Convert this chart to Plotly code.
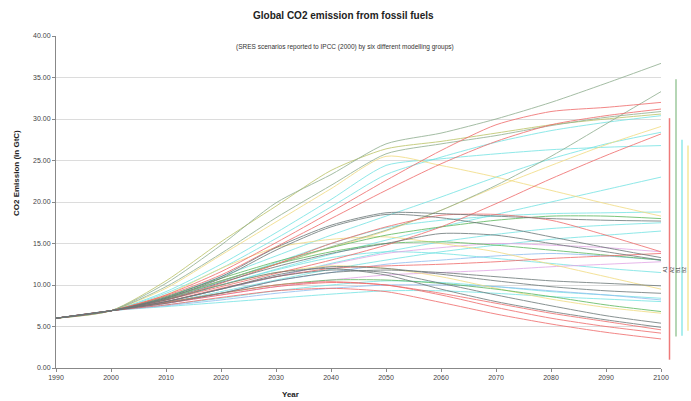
import plotly.graph_objects as go

years = [1990, 2000, 2010, 2020, 2030, 2040, 2050, 2060, 2070, 2080, 2090, 2100]

red_runs = [
    [6.0, 6.9, 8.8, 11.6, 15.1, 18.8, 22.6, 26.2, 29.3, 30.9, 31.4, 32.0],
    [6.0, 6.9, 8.7, 11.2, 14.6, 18.0, 21.4, 24.6, 27.3, 29.3, 30.4, 31.2],
    [6.0, 6.9, 8.2, 9.8, 11.4, 13.0, 14.8, 17.0, 19.8, 22.8, 25.6, 28.2],
    [6.0, 6.9, 8.2, 10.2, 12.5, 15.0, 17.0, 18.4, 18.5, 17.8, 16.0, 14.0],
    [6.0, 6.9, 7.9, 9.0, 10.0, 10.4, 10.0, 9.0, 7.8, 6.6, 5.6, 4.6],
    [6.0, 6.9, 7.6, 8.5, 9.3, 9.6, 9.2, 7.9, 6.5, 5.3, 4.3, 3.5],
    [6.0, 6.9, 7.8, 8.8, 9.8, 10.3, 10.0, 8.8, 7.3, 6.0, 5.0, 4.2],
    [6.0, 6.9, 8.0, 9.6, 11.0, 12.0, 12.3, 12.5, 12.8, 13.2, 13.5, 13.8],
]
graygreen_runs = [
    [6.0, 6.9, 10.2, 14.8, 19.9, 23.3, 27.0, 28.3, 30.0, 32.0, 34.3, 36.7],
    [6.0, 6.9, 8.5, 10.5, 12.5, 14.6, 16.6, 19.0, 22.0, 25.5, 29.4, 33.3],
    [6.0, 6.9, 9.8, 13.8, 18.1, 22.0, 25.8, 27.0, 28.0, 29.2, 30.2, 30.9],
]
olive_runs = [
    [6.0, 6.9, 10.5, 15.2, 19.5, 23.8, 26.4, 27.3, 28.3, 29.3, 30.0, 30.6],
]
cyan_runs = [
    [6.0, 6.9, 9.2, 12.5, 16.3, 20.3, 24.4, 25.2, 25.8, 26.3, 26.6, 26.8],
    [6.0, 6.9, 9.0, 12.0, 15.6, 19.4, 23.3, 25.4, 27.2, 28.6, 29.6, 30.4],
    [6.0, 6.9, 8.6, 11.0, 13.5, 16.0, 18.3, 20.6, 23.0, 25.2, 27.0, 28.4],
    [6.0, 6.9, 8.3, 10.0, 11.9, 13.7, 15.4, 17.0, 18.5, 20.0, 21.5, 23.0],
    [6.0, 6.9, 8.4, 10.4, 12.7, 15.0, 16.9, 17.8, 18.3, 18.6, 18.7, 18.8],
    [6.0, 6.9, 8.0, 9.5, 11.0, 12.6, 14.0, 15.2, 16.1, 16.8, 17.2, 17.5],
    [6.0, 6.9, 7.9, 9.2, 10.6, 11.9, 13.0, 14.0, 14.8, 15.5, 16.0, 16.5],
    [6.0, 6.9, 7.6, 8.4, 9.3, 10.0, 10.5, 10.3, 9.8, 9.2, 8.8, 8.4],
    [6.0, 6.9, 7.4, 7.9, 8.4, 8.9, 9.3, 9.3, 9.0, 8.6, 8.3, 8.0],
    [6.0, 6.9, 8.2, 10.0, 11.8, 13.3, 14.0, 13.8, 13.2, 12.6, 12.0, 11.5],
]
yellow_runs = [
    [6.0, 6.9, 9.6, 13.6, 17.6, 21.6, 25.5, 24.4, 23.0, 21.4, 19.8, 18.3],
    [6.0, 6.9, 8.4, 10.5, 12.5, 14.5, 16.5, 19.0, 21.8, 24.4, 26.9, 29.1],
    [6.0, 6.9, 8.3, 10.0, 11.5, 12.3, 12.0, 11.0, 9.6, 8.3, 7.3, 6.6],
    [6.0, 6.9, 8.8, 12.0, 14.5, 15.5, 15.8, 15.0, 14.0, 12.5, 11.0, 9.5],
]
green_runs = [
    [6.0, 6.9, 8.6, 10.8, 12.8, 14.5, 16.0, 17.0, 17.8, 18.3, 18.3, 18.0],
    [6.0, 6.9, 8.4, 10.5, 12.5, 14.0, 15.0, 15.2, 14.8, 14.2, 13.6, 13.0],
    [6.0, 6.9, 7.9, 9.0, 10.0, 10.6, 10.6, 10.2, 9.5, 8.6, 7.6, 6.8],
]
pink_runs = [
    [6.0, 6.9, 8.0, 9.5, 11.0, 12.5, 13.8, 14.5, 15.0, 14.8, 14.5, 14.0],
    [6.0, 6.9, 7.8, 8.8, 9.8, 10.6, 11.2, 11.5, 11.8, 12.2, 12.5, 12.8],
]
blue_runs = [
    [6.0, 6.9, 7.8, 9.0, 10.5, 11.5, 12.5, 13.0, 13.5, 13.8, 13.5, 13.0],
    [6.0, 6.9, 7.5, 8.2, 9.0, 9.6, 10.0, 10.0, 9.8, 9.3, 8.8, 8.2],
]
dark_runs = [
    [6.0, 6.9, 8.5, 11.0, 14.5, 17.2, 18.7, 18.6, 18.3, 18.0, 17.8, 17.7],
    [6.0, 6.9, 8.4, 10.8, 14.2, 17.0, 18.5, 18.1, 17.1, 15.8, 14.5, 13.3],
    [6.0, 6.9, 7.8, 9.0, 10.5, 11.5, 11.8, 11.5, 11.0, 10.5, 10.2, 9.9],
    [6.0, 6.9, 8.0, 9.5, 11.2, 12.2, 12.0, 11.3, 10.5, 9.8, 9.3, 9.0],
    [6.0, 6.9, 8.0, 9.5, 11.0, 11.8, 11.5, 10.2, 8.8, 7.5, 6.3, 5.4],
    [6.0, 6.9, 8.2, 10.0, 11.5, 12.0, 11.2, 9.5, 8.0, 6.8, 5.8, 4.9],
    [6.0, 6.9, 8.3, 10.3, 12.2, 13.8, 15.0, 16.2, 16.0, 15.0, 14.0, 13.0],
]

# family ranges shown as bars right of the plot
family_names = ["A1", "A2", "B1", "B2"]
family_min = [1.0, 3.8, 3.9, 4.5]
family_max = [30.1, 34.8, 27.5, 26.8]
family_colors = ["#ee7a7a", "#9cc89c", "#8fe8e8", "#f3e79a"]

y_ticks = [0, 5, 10, 15, 20, 25, 30, 35, 40]
x_ticks = [1990, 2000, 2010, 2020, 2030, 2040, 2050, 2060, 2070, 2080, 2090, 2100]

groups = [
    (cyan_runs, "#74e4e4"),
    (blue_runs, "#8fbef0"),
    (pink_runs, "#e2a6e6"),
    (yellow_runs, "#f2dc80"),
    (green_runs, "#5cb85c"),
    (olive_runs, "#bcc466"),
    (graygreen_runs, "#8fae8f"),
    (red_runs, "#f06a6a"),
    (dark_runs, "#6c7878"),
]

fig = go.Figure()
for runs, col in groups:
    for r in runs:
        fig.add_trace(go.Scatter(
            x=years, y=r, mode="lines", opacity=0.8,
            line=dict(color=col, width=1, shape="spline", smoothing=0.7),
            showlegend=False, hoverinfo="skip"))

FONT = "Liberation Sans, Arial, sans-serif"

# plot area in px: x 56..661, y 36..368
PL, PR, PT, PB = 56, 661, 36, 368
PW = PR - PL
PH = PB - PT


def px_x(x):
    return (x - PL) / PW


def px_y(y):
    return (PB - y) / PH


bar_px = [669.5, 676, 682, 688]
shapes = []
annotations = []
for i, name in enumerate(family_names):
    xp = px_x(bar_px[i])
    shapes.append(dict(type="line", xref="paper", yref="y",
                       x0=xp, x1=xp, y0=family_min[i], y1=family_max[i],
                       line=dict(color=family_colors[i], width=1.5)))
    annotations.append(dict(xref="paper", yref="y", x=px_x(bar_px[i] - 4), y=11.8,
                            xanchor="center", yanchor="middle",
                            text=name, textangle=-90, showarrow=False,
                            font=dict(size=5, color="#333", family=FONT)))

W, H = 691, 401
annotations += [
    dict(xref="paper", yref="paper", x=px_x(343), y=px_y(15),
         xanchor="center", yanchor="middle",
         text="<b>Global CO2 emission from fossil fuels</b>", showarrow=False,
         font=dict(size=10, color="#222", family=FONT)),
    dict(xref="paper", yref="paper", x=px_x(345), y=px_y(47),
         xanchor="center", yanchor="middle",
         text="(SRES scenarios reported to IPCC (2000) by six different modelling groups)",
         showarrow=False, font=dict(size=6.5, color="#333", family=FONT)),
    dict(xref="paper", yref="paper", x=px_x(16), y=px_y(173),
         xanchor="center", yanchor="middle",
         text="<b>CO2 Emission (in GtC)</b>", textangle=-90, showarrow=False,
         font=dict(size=8, color="#222", family=FONT)),
    dict(xref="paper", yref="paper", x=px_x(290), y=px_y(395),
         xanchor="center", yanchor="middle",
         text="<b>Year</b>", showarrow=False,
         font=dict(size=8, color="#222", family=FONT)),
]

fig.update_layout(
    width=W, height=H,
    margin=dict(l=PL, r=W - PR, t=PT, b=H - PB, pad=0),
    paper_bgcolor="white", plot_bgcolor="white",
    shapes=shapes, annotations=annotations,
    font=dict(family=FONT, size=7, color="#333"),
)
fig.update_xaxes(range=[1990, 2100], tickvals=x_ticks, ticktext=[str(v) for v in x_ticks],
                 showgrid=False, showline=True, linecolor="#888", linewidth=1,
                 ticks="outside", ticklen=3, tickcolor="#888", zeroline=False,
                 tickfont=dict(size=7, color="#444", family=FONT))
fig.update_yaxes(range=[0, 40], tickvals=y_ticks, tickformat=".2f",
                 showgrid=True, gridcolor="#dcdcdc", gridwidth=1,
                 showline=True, linecolor="#888", linewidth=1,
                 ticks="outside", ticklen=3, tickcolor="#888", zeroline=False,
                 tickfont=dict(size=7, color="#444", family=FONT))

fig.write_html("out.html", config={"displayModeBar": False},
               post_script="document.body.style.margin='0px';document.body.style.overflow='hidden';")
